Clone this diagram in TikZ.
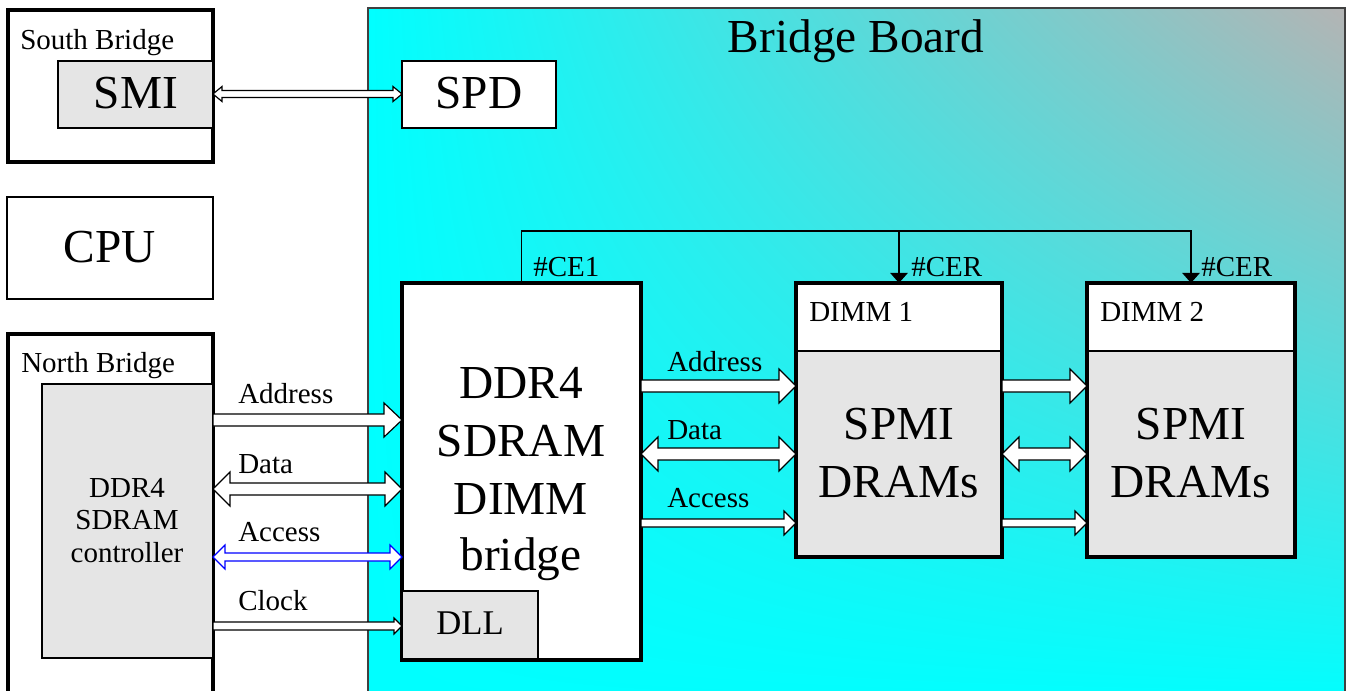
\documentclass[tikz,border=0pt]{standalone}
\usepackage{fontspec}
\setmainfont{Liberation Serif}
\usetikzlibrary{calc,fit,arrows.meta,shadings}
\definecolor{boxgray}{RGB}{229,229,229}
\definecolor{boardgray}{RGB}{180,180,180}
\definecolor{accblue}{RGB}{0,0,255}
\newcommand\sarrow[7]{%
  \coordinate (sa) at (#2 |- 0,#4);
  \coordinate (sb) at (#3 |- 0,#4);
  \draw[#1] ($(sa)+(0,-#5)$) -- ($(sb)+(-#7,-#5)$) -- ($(sb)+(-#7,-#6)$) -- (sb)
    -- ($(sb)+(-#7,#6)$) -- ($(sb)+(-#7,#5)$) -- ($(sa)+(0,#5)$) -- cycle;}
\newcommand\darrow[7]{%
  \coordinate (sa) at (#2 |- 0,#4);
  \coordinate (sb) at (#3 |- 0,#4);
  \draw[#1] (sa) -- ($(sa)+(#7,-#6)$) -- ($(sa)+(#7,-#5)$) -- ($(sb)+(-#7,-#5)$)
    -- ($(sb)+(-#7,-#6)$) -- (sb) -- ($(sb)+(-#7,#6)$) -- ($(sb)+(-#7,#5)$)
    -- ($(sa)+(#7,#5)$) -- ($(sa)+(#7,#6)$) -- cycle;}
\begin{document}
\begin{tikzpicture}[x=0.75pt,y=-0.75pt,
  thickbox/.style={draw=black,line width=2.6pt,fill=white,inner sep=0pt,outer sep=0pt},
  thinbox/.style={draw=black,line width=1pt,fill=white,inner sep=0pt,outer sep=0pt},
  graybox/.style={thinbox,fill=boxgray},
  frame/.style={draw=black,line width=2.6pt,inner sep=0pt,outer sep=0pt},
  board/.style={draw=black!75,line width=1pt,inner sep=0pt,
    upper left=cyan,lower left=cyan,lower right=cyan,upper right=boardgray},
  arr/.style={draw=black,fill=white,line width=0.9pt,line join=miter},
  barr/.style={arr,draw=accblue},
  ce/.style={draw=black,line width=1.1pt,-{Triangle[length=7.5pt,width=13pt]}},
  small/.style={font=\fontsize{21.75pt}{24pt}\selectfont,inner sep=0pt},
  big/.style={font=\fontsize{35.5pt}{43pt}\selectfont,inner sep=0pt},
  mid/.style={font=\fontsize{26pt}{30pt}\selectfont,inner sep=0pt}]
\path[use as bounding box,clip] (0,0) rectangle (1348,691);
\fill[white] (0,0) rectangle (1348,691);
% Bridge board
\node[board,fit={(368,8) (1345,705)}] (board) {};
\node[big,anchor=base] (boardlbl) at (856,53) {Bridge Board};
% South bridge
\node[thickbox,fit={(8,10) (213,162)}] (sbr) {};
\node[small,anchor=base west] (sblbl) at (20,50) {South Bridge};
\node[graybox,fit={(58,61) (213,128)}] (smi) {};
\node[big,anchor=base] (smilbl) at (136,109) {SMI};
\node[thinbox,fit={(402,61) (556,128)}] (spd) {};
\node[big,anchor=base] (spdlbl) at (479,109) {SPD};
\darrow{arr}{smi.east}{spd.west}{94}{3.5}{7.5}{9}
% CPU
\node[thinbox,fit={(7,197) (213,299)}] (cpu) {};
\node[big,anchor=base] (cpulbl) at (110,263) {CPU};
% North bridge
\node[thickbox,fit={(8,334) (213,705)}] (nb) {};
\node[small,anchor=base west] (nblbl) at (21,373) {North Bridge};
\node[graybox,fit={(42,384) (213,658)}] (ctrl) {};
\node[small,anchor=base] (c1) at (127,497) {DDR4};
\node[small,anchor=base] (c2) at (127,529) {SDRAM};
\node[small,anchor=base] (c3) at (127,562) {controller};
% DDR4 bridge
\node[thickbox,fit={(402,283) (641,660)}] (bridge) {};
\node[big,anchor=base] (b1) at (521,398) {DDR4};
\node[big,anchor=base] (b2) at (521,456) {SDRAM};
\node[big,anchor=base] (b3) at (521,514) {DIMM};
\node[big,anchor=base] (b4) at (521,570) {bridge};
\node[graybox,fit={(402,591) (538,659)}] (dll) {};
\node[mid,anchor=base] (dlllbl) at (470,634) {DLL};
% DIMMs
\node[thinbox,fit={(796,283) (1002,351)}] (d1top) {};
\node[graybox,fit={(796,351) (1002,557)}] (d1bot) {};
\node[frame,fit={(796,283) (1002,557)}] (dimm1) {};
\node[small,anchor=base west] (d1lbl) at (809,322) {DIMM 1};
\node[big,anchor=base] (d1a) at (899,439) {SPMI};
\node[big,anchor=base] (d1b) at (899,497) {DRAMs};
\node[thinbox,fit={(1087,283) (1295,351)}] (d2top) {};
\node[graybox,fit={(1087,351) (1295,557)}] (d2bot) {};
\node[frame,fit={(1087,283) (1295,557)}] (dimm2) {};
\node[small,anchor=base west] (d2lbl) at (1100,322) {DIMM 2};
\node[big,anchor=base] (d2a) at (1191,439) {SPMI};
\node[big,anchor=base] (d2b) at (1191,497) {DRAMs};
% chip enable lines
\draw[ce] (bridge.north) -- (bridge.north |- 0,231) -| (dimm2.north);
\draw[ce] (dimm1.north |- 0,231) -- (dimm1.north);
\node[small,anchor=base west] (ce1) at (533,277) {\#CE1};
\node[small,anchor=base west] (cer1) at (911,277) {\#CER};
\node[small,anchor=base west] (cer2) at (1201,277) {\#CER};
% left buses
\sarrow{arr}{ctrl.east}{bridge.west}{420}{6}{17}{18}
\darrow{arr}{ctrl.east}{bridge.west}{489}{6}{17}{17}
\darrow{barr}{ctrl.east}{bridge.west}{557}{4}{12}{12}
\sarrow{arr}{ctrl.east}{dll.west}{626}{4}{8}{8}
\node[small,anchor=base west] (la) at (238,403) {Address};
\node[small,anchor=base west] (ld) at (238,473) {Data};
\node[small,anchor=base west] (lac) at (238,541) {Access};
\node[small,anchor=base west] (lc) at (238,610) {Clock};
% right buses
\sarrow{arr}{bridge.east}{dimm1.west}{386}{6}{17}{17}
\darrow{arr}{bridge.east}{dimm1.west}{454}{6}{17}{17}
\sarrow{arr}{bridge.east}{dimm1.west}{523}{4}{12}{12}
\node[small,anchor=base west] (ra) at (667,371) {Address};
\node[small,anchor=base west] (rd) at (667,439) {Data};
\node[small,anchor=base west] (rac) at (667,507) {Access};
\sarrow{arr}{dimm1.east}{dimm2.west}{386}{6}{17}{17}
\darrow{arr}{dimm1.east}{dimm2.west}{454}{6}{17}{17}
\sarrow{arr}{dimm1.east}{dimm2.west}{523}{4}{12}{12}
\end{tikzpicture}
\end{document}
